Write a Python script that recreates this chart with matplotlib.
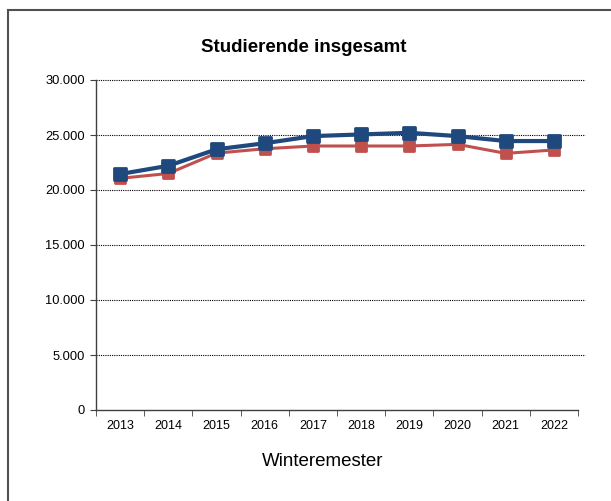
import matplotlib
matplotlib.use('Agg')
import matplotlib.pyplot as plt
from matplotlib.markers import MarkerStyle
from matplotlib.patches import Rectangle
from matplotlib.ticker import FuncFormatter, FixedLocator

plt.rcParams['font.family'] = ['Liberation Sans', 'DejaVu Sans']

years = ['2013', '2014', '2015', '2016', '2017', '2018', '2019', '2020', '2021', '2022']
total_blue = [21450, 22200, 23700, 24250, 24900, 25050, 25200, 24900, 24450, 24450]
total_red = [21060, 21500, 23350, 23750, 24000, 24000, 24000, 24150, 23330, 23640]
y_ticks = [0, 5000, 10000, 15000, 20000, 25000, 30000]

fig = plt.figure(figsize=(6.11, 5.01), dpi=100)
ax = fig.add_axes([96 / 611, 1 - 410 / 501, 482 / 611, 330 / 501])

# outer frame of the chart area
fig.patches.append(Rectangle((8 / 611, -0.1), 1.2, 1 - 10 / 501 + 0.1,
                             transform=fig.transFigure, fill=False,
                             edgecolor='#505050', linewidth=1.5))

x = list(range(len(years)))
sq = MarkerStyle('s', joinstyle='round')
ax.plot(x, total_red, color='#C0504D', linewidth=2.2, marker=sq,
        markersize=7.5, markeredgewidth=2, markeredgecolor='#C0504D', zorder=3)
ax.plot(x, total_blue, color='#1F497D', linewidth=3, marker=sq,
        markersize=8.5, markeredgewidth=2, markeredgecolor='#1F497D', zorder=4)

ax.set_xlim(-0.5, len(years) - 0.5)
ax.set_ylim(0, 30000)
ax.set_yticks(y_ticks)
ax.yaxis.set_major_formatter(FuncFormatter(lambda v, p: f'{int(v):,}'.replace(',', '.')))

# dotted gridlines, running a little past the plot area
for v in y_ticks[1:]:
    ax.plot([0, 1.015], [v, v], transform=ax.get_yaxis_transform(), clip_on=False,
            color='black', linestyle=(0, (1, 1)), linewidth=0.8, zorder=1)

ax.set_xticks(x)
ax.set_xticklabels(years)
ax.xaxis.set_minor_locator(FixedLocator([i - 0.5 for i in range(len(years) + 1)]))
ax.tick_params(axis='x', which='major', length=0, pad=7, labelsize=9, colors='black')
ax.tick_params(axis='x', which='minor', length=4, direction='out', color='#404040')
ax.tick_params(axis='y', length=4, direction='out', labelsize=9.3, pad=4, color='#404040')

for s in ['top', 'right']:
    ax.spines[s].set_visible(False)
for s in ['left', 'bottom']:
    ax.spines[s].set_color('#404040')
    ax.spines[s].set_linewidth(1)

fig.text(323 / 611, 1 - 461 / 501, 'Winteremester', fontsize=13.5,
         ha='center', va='center')
fig.text(304 / 611, 1 - 48 / 501, 'Studierende insgesamt', fontsize=13.5,
         fontweight='bold', ha='center', va='center')

fig.savefig('out.png', dpi=100)
